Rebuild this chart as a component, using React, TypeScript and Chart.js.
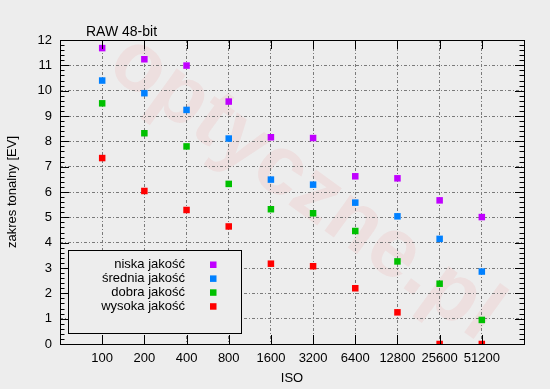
import React, { useEffect, useRef } from "react";
import { Chart, registerables } from "chart.js";

Chart.register(...registerables);

const isoLabels = ["100", "200", "400", "800", "1600", "3200", "6400", "12800", "25600", "51200"];
const seriesNames = ["niska jakość", "średnia jakość", "dobra jakość", "wysoka jakość"];
const seriesColors = ["#c000ff", "#0080ff", "#00c000", "#ff0000"];
const niska = [11.68, 11.24, 10.99, 9.57, 8.16, 8.13, 6.62, 6.54, 5.67, 5.01];
const srednia = [10.4, 9.9, 9.24, 8.11, 6.49, 6.29, 5.58, 5.04, 4.15, 2.86];
const dobra = [9.5, 8.32, 7.8, 6.32, 5.32, 5.16, 4.46, 3.26, 2.38, 0.95];
const wysoka = [7.34, 6.04, 5.29, 4.64, 3.17, 3.07, 2.2, 1.25, 0, 0];
const yTicks = [0, 1, 2, 3, 4, 5, 6, 7, 8, 9, 10, 11, 12];

const FONT = "'Liberation Sans', Arial, sans-serif";
const BG = "#ededed";

const framePlugin = {
  id: "frame",
  beforeDraw(chart: any) {
    const { ctx, width, height } = chart;
    ctx.save();
    ctx.fillStyle = BG;
    ctx.fillRect(0, 0, width, height);
    // watermark
    ctx.translate(305, 188);
    ctx.rotate((36 * Math.PI) / 180);
    ctx.font = `bold 84px ${FONT}`;
    ctx.textAlign = "center";
    ctx.textBaseline = "middle";
    ctx.fillStyle = "rgba(235,60,60,0.075)";
    ctx.fillText("optyczne.pl", 0, 0);
    ctx.restore();
  },
  afterDraw(chart: any) {
    const { ctx, chartArea } = chart;
    const { left, right, top, bottom } = chartArea;
    const xs = chart.scales.x;
    const ys = chart.scales.y;
    ctx.save();
    ctx.strokeStyle = "#000";
    ctx.lineWidth = 1;
    ctx.beginPath();
    for (let v = 0; v <= 12.0001; v += 0.2) {
      const py = Math.round(ys.getPixelForValue(v)) + 0.5;
      const major = Math.abs(v - Math.round(v)) < 1e-6;
      const len = major ? 9 : 4.5;
      ctx.moveTo(left, py);
      ctx.lineTo(left + len, py);
      ctx.moveTo(right, py);
      ctx.lineTo(right - len, py);
    }
    for (let i = 1; i <= isoLabels.length; i++) {
      const px = Math.round(xs.getPixelForValue(i)) + 0.5;
      ctx.moveTo(px, bottom);
      ctx.lineTo(px, bottom - 9);
      ctx.moveTo(px, top);
      ctx.lineTo(px, top + 9);
    }
    ctx.stroke();
    ctx.strokeRect(Math.round(left) + 0.5, Math.round(top) + 0.5, Math.round(right - left), Math.round(bottom - top));

    ctx.fillStyle = "#000";
    ctx.font = `14px ${FONT}`;
    ctx.textAlign = "left";
    ctx.textBaseline = "middle";
    ctx.fillText("RAW 48-bit", 86, 32);

    ctx.fillStyle = BG;
    ctx.fillRect(68.5, 250.5, 173, 83);
    ctx.strokeRect(68.5, 250.5, 173, 83);
    ctx.font = `13px ${FONT}`;
    ctx.textAlign = "right";
    chart.data.datasets.forEach((ds: any, i: number) => {
      const y = 264.7 + i * 13.9;
      ctx.fillStyle = "#000";
      ctx.fillText(ds.label, 185, y);
      ctx.fillStyle = ds.backgroundColor;
      ctx.fillRect(210, y - 3.2, 6.5, 6.5);
    });
    ctx.restore();
  },
};

export default function App() {
  const ref = useRef<HTMLCanvasElement>(null);
  useEffect(() => {
    document.body.style.margin = "0";
    document.body.style.background = BG;
    const allData = [niska, srednia, dobra, wysoka];
    const chart = new Chart(ref.current as HTMLCanvasElement, {
      type: "scatter",
      data: {
        datasets: allData.map((arr, i) => ({
          label: seriesNames[i],
          data: arr.map((v, k) => ({ x: k + 1, y: v })),
          backgroundColor: seriesColors[i],
          borderColor: seriesColors[i],
          borderWidth: 0,
          pointStyle: "rect",
          pointRadius: 4.6,
          pointHoverRadius: 4.6,
          showLine: false,
        })),
      },
      options: {
        animation: false,
        responsive: false,
        events: [],
        layout: { padding: { top: 40, right: 26, left: 0, bottom: 0 } },
        plugins: { legend: { display: false }, tooltip: { enabled: false }, title: { display: false } },
        scales: {
          x: {
            type: "linear",
            min: 0,
            max: isoLabels.length + 1,
            afterFit: (s: any) => {
              s.height = 45;
            },
            afterBuildTicks: (s: any) => {
              s.ticks = Array.from({ length: isoLabels.length + 2 }, (_, i) => ({ value: i }));
            },
            ticks: {
              autoSkip: false,
              maxRotation: 0,
              padding: 7,
              color: "#000",
              font: { family: FONT, size: 13 },
              callback: (v: any) => isoLabels[Number(v) - 1] ?? "",
            },
            grid: {
              drawTicks: false,
              lineWidth: 1,
              color: (c: any) => (c.tick && c.tick.value >= 1 && c.tick.value <= isoLabels.length ? "#7a7a7a" : "rgba(0,0,0,0)"),
            },
            border: { display: false, dash: [3, 2, 1, 2] },
            title: {
              display: true,
              text: "ISO",
              color: "#000",
              font: { family: FONT, size: 13 },
              padding: { top: 0, bottom: 3 },
            },
          },
          y: {
            min: 0,
            max: 12,
            afterFit: (s: any) => {
              s.width = 60;
            },
            afterBuildTicks: (s: any) => {
              s.ticks = yTicks.map((v) => ({ value: v }));
            },
            ticks: {
              padding: 8,
              color: "#000",
              font: { family: FONT, size: 13 },
            },
            grid: {
              drawTicks: false,
              lineWidth: 1,
              color: (c: any) => (c.tick && c.tick.value >= 1 && c.tick.value <= 11 ? "#7a7a7a" : "rgba(0,0,0,0)"),
            },
            border: { display: false, dash: [3, 2, 1, 2] },
            title: {
              display: true,
              text: "zakres tonalny [EV]",
              color: "#000",
              font: { family: FONT, size: 13 },
              padding: { top: 5, bottom: 0 },
            },
          },
        },
      },
      plugins: [framePlugin],
    } as any);
    return () => chart.destroy();
  }, []);
  return (
    <div style={{ width: 550, height: 389, background: BG }}>
      <canvas ref={ref} width={550} height={389} style={{ display: "block" }} />
    </div>
  );
}
